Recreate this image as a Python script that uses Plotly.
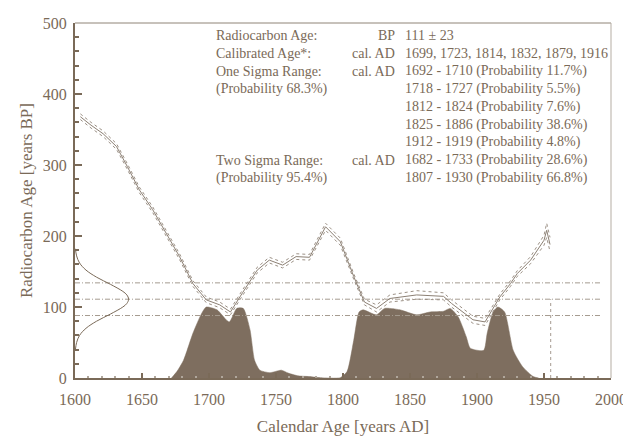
import plotly.graph_objects as go

# ---- data -------------------------------------------------------------
cal_year = [1604, 1612, 1621, 1631, 1639, 1648, 1658, 1668, 1678, 1688, 1698,
            1708, 1716, 1725, 1736, 1745, 1755, 1765, 1775, 1787, 1798, 1808,
            1816, 1825, 1835, 1855, 1875, 1881, 1897, 1906, 1917, 1925, 1930,
            1940, 1950, 1952, 1954.5]
cal_bp = [368, 356, 344, 326, 298, 265, 237, 204, 171, 133, 110,
          103, 93, 120, 152, 166, 159, 171, 170, 213, 192, 143,
          107, 98, 112, 117, 115, 105, 82, 79, 114, 133, 147,
          166, 194, 208, 188]
cal_sigma = [4, 4, 4, 4, 4, 4, 4, 4, 4, 4, 4,
             4, 4, 4, 4, 4, 4, 4, 4, 5, 5, 4,
             4, 5, 5, 6, 5, 5, 5, 5, 4, 4, 4,
             5, 7, 10, 10]

prob_year = [1672, 1676, 1681, 1688, 1694.5, 1698, 1706, 1715, 1720.7, 1725.6,
             1730.6, 1734, 1738, 1745.5, 1754, 1759, 1766.6, 1775, 1783, 1798,
             1803, 1808, 1812, 1815, 1825, 1831, 1842.5, 1855, 1865, 1875,
             1880, 1886, 1892, 1895, 1905, 1907.6, 1912, 1915.6, 1920.6, 1927,
             1934, 1942, 1946]
prob_val = [0, 9, 25, 63, 91, 100, 96, 79, 98, 98,
            68, 25, 11, 7.5, 11, 7, 3, 2, 0.5, 0.5,
            9, 53, 93, 96, 89, 98, 96, 89, 93, 94,
            98, 86, 58, 42, 39, 63, 93, 100, 93, 39,
            16, 2, 0]

c14_bp = [40, 50, 60, 70, 80, 90, 100, 105, 111, 117, 122, 132, 142, 152, 162, 172, 182]
c14_width = [0.3, 1.2, 3.4, 8.2, 16.1, 26.4, 35.7, 38.7, 40, 38.7, 35.7, 26.4, 16.1, 8.2, 3.4, 1.2, 0.3]

sigma_levels = [134, 111, 88]
measured_year = 1955
measured_bp = 111

table_rows = [
    ("Radiocarbon Age:", "BP", "111 ± 23"),
    ("Calibrated Age*:", "cal. AD", "1699, 1723, 1814, 1832, 1879, 1916"),
    ("One Sigma Range:", "cal. AD", "1692 - 1710 (Probability 11.7%)"),
    ("(Probability 68.3%)", "", "1718 - 1727 (Probability 5.5%)"),
    ("", "", "1812 - 1824 (Probability 7.6%)"),
    ("", "", "1825 - 1886 (Probability 38.6%)"),
    ("", "", "1912 - 1919 (Probability 4.8%)"),
    ("Two Sigma Range:", "cal. AD", "1682 - 1733 (Probability 28.6%)"),
    ("(Probability 95.4%)", "", "1807 - 1930 (Probability 66.8%)"),
]

x_ticks = [1600, 1650, 1700, 1750, 1800, 1850, 1900, 1950, 2000]
y_ticks = [0, 100, 200, 300, 400, 500]

# ---- styling ----------------------------------------------------------
BROWN = "#7a6a58"
FILL = "#7e6e5f"
CURVE = "#8c8074"
FONT = "Liberation Serif"

fig = go.Figure()

# probability distribution (filled)
fig.add_trace(go.Scatter(x=prob_year, y=prob_val, mode="lines",
                         line=dict(color=FILL, width=0.5, shape="spline", smoothing=0.6),
                         fill="tozeroy", fillcolor=FILL, hoverinfo="skip"))

# horizontal sigma lines
for lv in sigma_levels:
    fig.add_trace(go.Scatter(x=[1600, 1993], y=[lv, lv], mode="lines",
                             line=dict(color="#a59b90", width=1, dash="5px,2px,1px,2px"),
                             hoverinfo="skip"))

# vertical measured line
fig.add_trace(go.Scatter(x=[measured_year, measured_year], y=[0, measured_bp], mode="lines",
                         line=dict(color="#a59b90", width=1, dash="dot"), hoverinfo="skip"))

# calibration curve with envelope
upper = [b + s for b, s in zip(cal_bp, cal_sigma)]
lower = [b - s for b, s in zip(cal_bp, cal_sigma)]
for arr in (upper, lower):
    fig.add_trace(go.Scatter(x=cal_year, y=arr, mode="lines",
                             line=dict(color="#9c9186", width=1, dash="dot"),
                             hoverinfo="skip"))
fig.add_trace(go.Scatter(x=cal_year, y=cal_bp, mode="lines",
                         line=dict(color=CURVE, width=1), hoverinfo="skip"))

# radiocarbon age distribution on the y-axis
fig.add_trace(go.Scatter(x=[1600 + w for w in c14_width], y=c14_bp, mode="lines",
                         line=dict(color=BROWN, width=1, shape="spline"), hoverinfo="skip"))

# table text
row_top = 482
row_step = 25
for i, (c1, c2, c3) in enumerate(table_rows):
    yv = row_top - i * row_step
    if c1:
        fig.add_annotation(x=1703.5, y=yv, text=c1, showarrow=False, xanchor="left",
                           yanchor="middle", font=dict(family=FONT, size=14, color=BROWN))
    if c2:
        fig.add_annotation(x=1840, y=yv, text=c2, showarrow=False, xanchor="right",
                           yanchor="middle", font=dict(family=FONT, size=14, color=BROWN))
    if c3:
        fig.add_annotation(x=1845, y=yv, text=c3, showarrow=False, xanchor="left",
                           yanchor="middle", font=dict(family=FONT, size=14, color=BROWN))

# top and right frame lines
fig.add_shape(type="line", xref="paper", yref="paper", x0=0, x1=1, y0=1, y1=1,
              line=dict(color="#8f8476", width=1))
fig.add_shape(type="line", xref="paper", yref="paper", x0=1, x1=1, y0=0, y1=1,
              line=dict(color="#b5ada3", width=1))

# the page body adds an 8px margin, so the figure is 8px smaller on each side
fig.update_layout(
    width=623, height=430,
    margin=dict(l=67, r=20, t=15, b=60),
    paper_bgcolor="white", plot_bgcolor="white",
    showlegend=False,
    font=dict(family=FONT, color=BROWN, size=16),
    xaxis=dict(range=[1600, 2000], tickvals=x_ticks, showgrid=False, zeroline=False,
               automargin=False,
               showline=True, linecolor=BROWN, linewidth=2,
               ticks="inside", ticklen=5, tickwidth=1.5, tickcolor=BROWN,
               ticklabelstandoff=6,
               minor=dict(dtick=10, ticks="inside", ticklen=2, tickcolor="#b0a79c"),
               tickfont=dict(family=FONT, size=16, color=BROWN),
               title=dict(text="Calendar Age [years AD]", standoff=13,
                          font=dict(family=FONT, size=17, color=BROWN))),
    yaxis=dict(range=[0, 500], tickvals=y_ticks, showgrid=False, zeroline=False,
               automargin=False,
               showline=True, linecolor=BROWN, linewidth=2,
               ticks="inside", ticklen=7, tickwidth=1.5, tickcolor=BROWN,
               ticklabelstandoff=3,
               minor=dict(dtick=20, ticks="inside", ticklen=4, tickcolor=BROWN),
               tickfont=dict(family=FONT, size=16, color=BROWN),
               title=dict(text="Radiocarbon Age [years BP]", standoff=6,
                          font=dict(family=FONT, size=17, color=BROWN))),
)

fig.write_html("out.html")
